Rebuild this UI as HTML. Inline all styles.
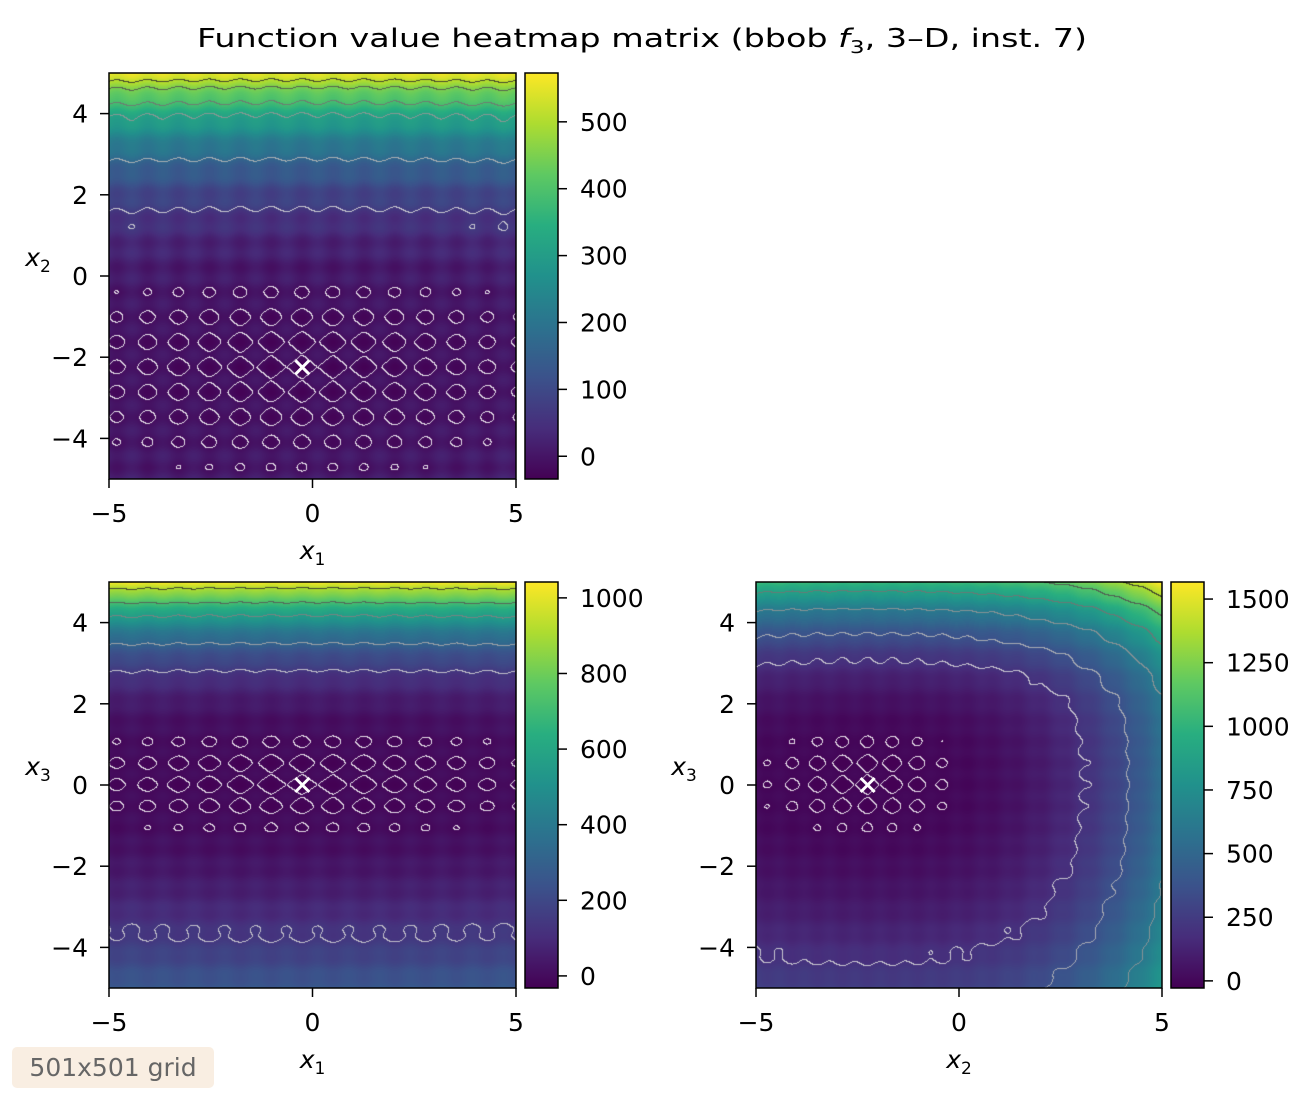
<!DOCTYPE html>
<html><head><meta charset="utf-8">
<style>
body{margin:0;background:#fff;width:1314px;height:1102px;overflow:hidden;position:relative;font-family:"DejaVu Sans","Liberation Sans",sans-serif}
canvas{position:absolute}
svg{position:absolute;left:0;top:0}
#badge{position:absolute;left:12px;top:1047px;width:202px;height:41px;background:#f9eee2;border-radius:5px;color:#666;font-size:25px;line-height:41px;text-align:center}
</style></head>
<body>
<canvas id="c0"></canvas>
<canvas id="c1"></canvas>
<canvas id="c2"></canvas>
<svg id="s" width="1314" height="1102"></svg>
<div id="badge">501x501 grid</div>
<script>
// data
const xopt=[-0.25,-2.25,0.0];
const fopt=-33;
const axisTicks=[-5,0,5];
const yTicks=[-4,-2,0,2,4];
const cbTicks0=[0,100,200,300,400,500];
const cbTicks1=[0,200,400,600,800,1000];
const cbTicks2=[0,250,500,750,1000,1250,1500];
const cbRange0=[-34,573];
const cbRange1=[-32,1042];
const cbRange2=[-28,1567];
const levels0=[20,100,200,345,420,482,541];
const levels1=[20,173,340,585,745,940];
const levels2=[20,230,400,650,900,1150,1400];

function q1(d){return 0.4*d*d;}
function q2(d){return d<0?2.5*d*d:2.5*d*d+(560-2.5*52.6)*Math.pow(d/7.25,3.8);}
function q3(d){return d<0?11*d*d:4*d*d+940*Math.pow(d/5,3.5);}
const per=[0.76,0.62,0.54];
function F(x){
 let d=[x[0]-xopt[0],x[1]-xopt[1],x[2]-xopt[2]];
 let v=fopt+q1(d[0])+q2(d[1])+q3(d[2]);
 for(let i=0;i<3;i++)v+=10*(1-Math.cos(2*Math.PI*d[i]/per[i]));
 return v;
}
const vir=["#440154","#472d7b","#3b528b","#2c728e","#21918c","#28ae80","#5ec962","#addc30","#fde725"].map(h=>[1,3,5].map(k=>parseInt(h.substr(k,2),16)));
function cmap(t){t=Math.max(0,Math.min(1,t));let s=t*8,i=Math.min(7,Math.floor(s)),f=s-i;return vir[i].map((c,k)=>c+(vir[i+1][k]-c)*f);}

const panels=[
 {c:"c0",x:109,y:73,w:407,h:406,ax:0,ay:1,cb:[cbTicks0,cbRange0],lv:levels0,xl:"1",yl:"2",cbx:525,lx:38},
 {c:"c1",x:109,y:582,w:407,h:406,ax:0,ay:2,cb:[cbTicks1,cbRange1],lv:levels1,xl:"1",yl:"3",cbx:525,lx:38},
 {c:"c2",x:756,y:582,w:406,h:406,ax:1,ay:2,cb:[cbTicks2,cbRange2],lv:levels2,xl:"2",yl:"3",cbx:1171,lx:684}
];
const svg=document.getElementById('s');
function E(tag,at,txt){const e=document.createElementNS("http://www.w3.org/2000/svg",tag);for(const k in at)e.setAttribute(k,at[k]);if(txt!==undefined)e.textContent=txt;svg.appendChild(e);return e;}
function lbl(tx){return tx<0?"\u2212"+(-tx):""+tx;}
const FS=25;
panels.forEach((p,pi)=>{
 const cv=document.getElementById(p.c);cv.width=p.w;cv.height=p.h;cv.style.left=p.x+"px";cv.style.top=p.y+"px";
 const ctx=cv.getContext('2d');const img=ctx.createImageData(p.w,p.h);
 const W=p.w+1,H=p.h+1,V=new Float32Array(W*H);
 const [lo,hi]=p.cb[1];
 for(let j=0;j<H;j++)for(let i=0;i<W;i++){
  let x=[xopt[0],xopt[1],xopt[2]];x[p.ax]=-5+10*(i+0.5)/p.w;x[p.ay]=5-10*(j+0.5)/p.h;V[j*W+i]=F(x);}
 const n=p.lv.length;
 for(let j=0;j<p.h;j++)for(let i=0;i<p.w;i++){
  const v=V[j*W+i];let c=cmap((v-lo)/(hi-lo));
  const vr=V[j*W+i+1],vd=V[(j+1)*W+i];
  for(let k=0;k<n;k++){const L=p.lv[k]+fopt;
   if((v-L)*(vr-L)<0||(v-L)*(vd-L)<0){const g=255-(255-45)*k/(n-1);const a=0.85;c=c.map(cc=>cc*(1-a)+g*a);break;}}
  const o=(j*p.w+i)*4;img.data[o]=c[0];img.data[o+1]=c[1];img.data[o+2]=c[2];img.data[o+3]=255;}
 ctx.putImageData(img,0,0);
 let r=E('rect',{x:p.x,y:p.y,width:p.w,height:p.h,fill:"none",stroke:"#000","stroke-width":1.5});
 
 const sx=v=>p.x+(v+5)/10*p.w, sy=v=>p.y+(5-v)/10*p.h;
 axisTicks.forEach(t=>{E('line',{x1:sx(t),x2:sx(t),y1:p.y+p.h,y2:p.y+p.h+9,stroke:"#000","stroke-width":1.5});
  let e=E('text',{x:sx(t),y:p.y+p.h+43,"text-anchor":"middle","font-size":FS},lbl(t));});
 yTicks.forEach(t=>{E('line',{x1:p.x-9,x2:p.x,y1:sy(t),y2:sy(t),stroke:"#000","stroke-width":1.5});
  let e=E('text',{x:p.x-21,y:sy(t)+9,"text-anchor":"end","font-size":FS},lbl(t));});
 let xl=E('text',{x:p.x+p.w/2,y:p.y+p.h+80,"text-anchor":"middle","font-size":FS,"font-style":"italic"});xl.innerHTML='x<tspan font-size="17" font-style="normal" dy="6">'+p.xl+'</tspan>';
 
 let yl=E('text',{x:p.lx,y:p.y+p.h/2-10,"text-anchor":"middle","font-size":FS,"font-style":"italic"});yl.innerHTML='x<tspan font-size="17" font-style="normal" dy="6">'+p.yl+'</tspan>';
 
 const mx=sx(xopt[p.ax]),my=sy(xopt[p.ay]);
 let m=E('path',{d:`M${mx-7} ${my-7}L${mx+7} ${my+7}M${mx-7} ${my+7}L${mx+7} ${my-7}`,stroke:"#fff","stroke-width":3});
 
 const gid="g"+pi;const defs=E('defs',{});const lg=document.createElementNS("http://www.w3.org/2000/svg","linearGradient");
 lg.setAttribute('id',gid);lg.setAttribute('x1','0');lg.setAttribute('y1','1');lg.setAttribute('x2','0');lg.setAttribute('y2','0');
 vir.forEach((c,k)=>{const st=document.createElementNS("http://www.w3.org/2000/svg","stop");st.setAttribute('offset',k/8);st.setAttribute('stop-color',`rgb(${c})`);lg.appendChild(st);});
 defs.appendChild(lg);
 let cb=E('rect',{x:p.cbx,y:p.y,width:33,height:p.h,fill:`url(#${gid})`,stroke:"#000","stroke-width":1.5});
 
 const cy=v=>p.y+p.h-(v-lo)/(hi-lo)*p.h;
 p.cb[0].forEach(t=>{E('line',{x1:p.cbx+33,x2:p.cbx+42,y1:cy(t),y2:cy(t),stroke:"#000","stroke-width":1.5});
  let e=E('text',{x:p.cbx+55,y:cy(t)+9,"font-size":FS},""+t);});
});
let tt=E('text',{x:197,y:47,"font-size":26,textLength:890,lengthAdjust:"spacingAndGlyphs"});
tt.innerHTML='Function value heatmap matrix (bbob <tspan font-style="italic">f</tspan><tspan font-size="18" dy="6">3</tspan><tspan dy="-6">, 3\u2013D, inst. 7)</tspan>';

</script>
</body></html>
